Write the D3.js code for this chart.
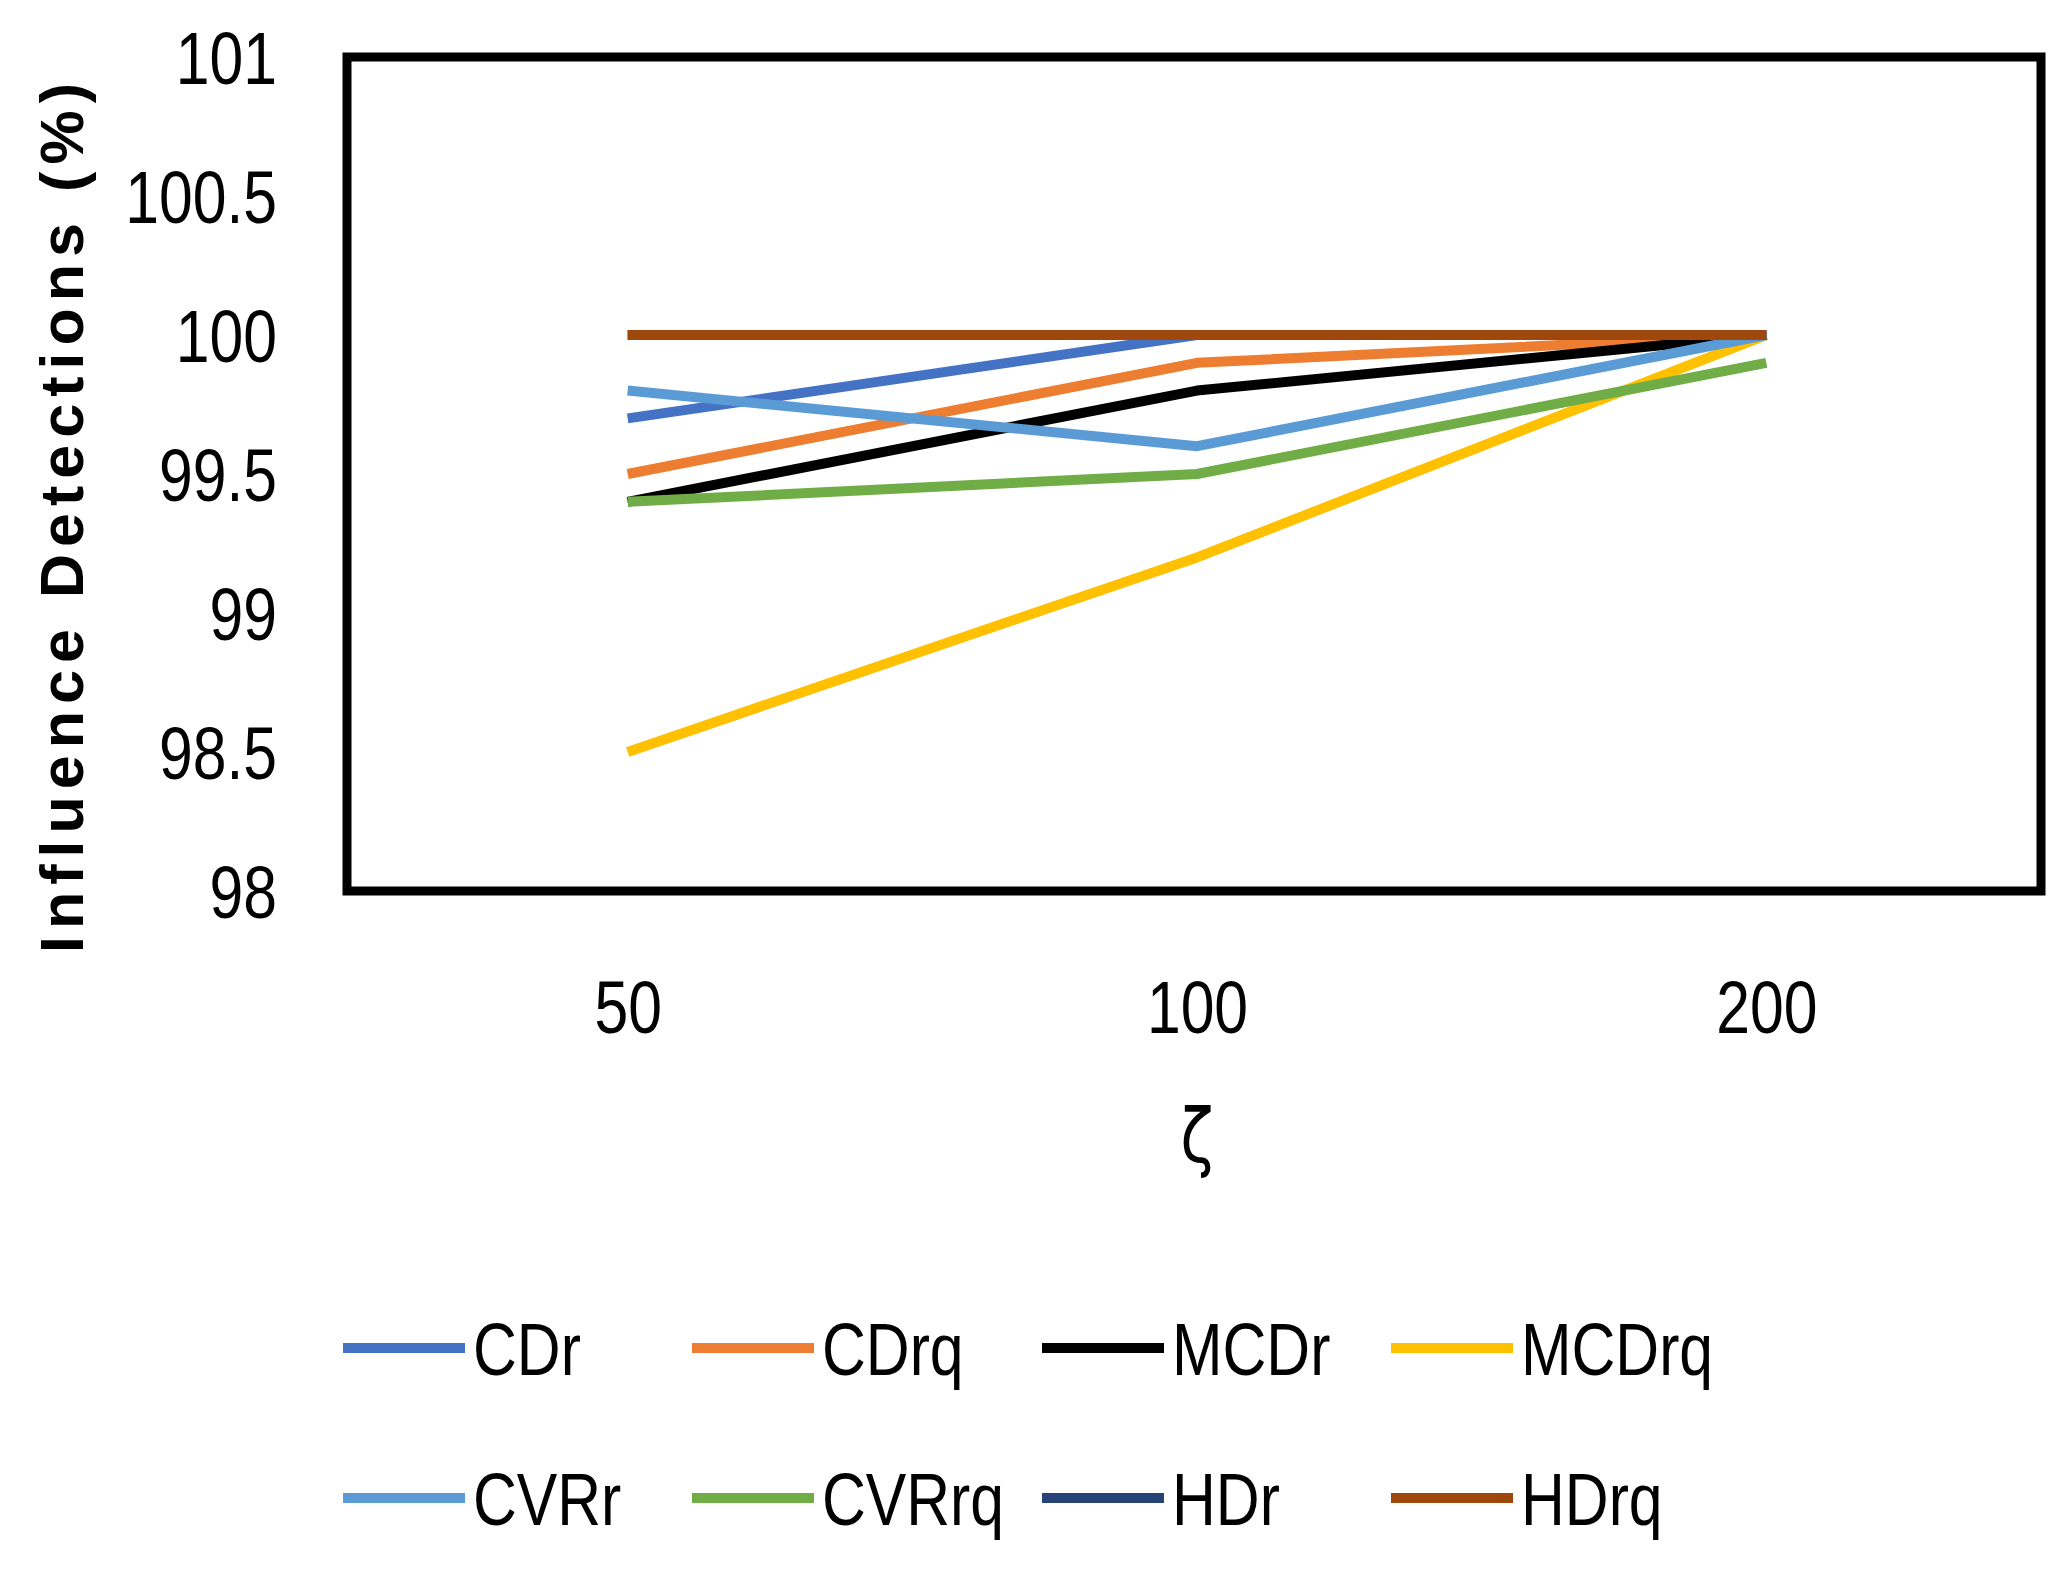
<!DOCTYPE html>
<html>
<head>
<meta charset="utf-8">
<script src="https://cdn.jsdelivr.net/npm/d3@7"></script>
<style>
  html, body { margin: 0; padding: 0; background: #fff; }
  svg { display: block; }
  .narrow { font-family: "Liberation Sans", Arial, sans-serif; }
</style>
</head>
<body>
<svg id="chart" width="2070" height="1571"></svg>
<script>
// ---- data ----
const categories = ["50", "100", "200"];
const seriesNames = ["CDr", "CDrq", "MCDr", "MCDrq", "CVRr", "CVRrq", "HDr", "HDrq"];
const seriesColors = ["#4472C4", "#ED7D31", "#000000", "#FFC000", "#5B9BD5", "#70AD47", "#264478", "#9E480E"];
const CDr   = [99.7, 100.0, 100.0];
const CDrq  = [99.5, 99.9, 100.0];
const MCDr  = [99.4, 99.8, 100.0];
const MCDrq = [98.5, 99.2, 100.0];
const CVRr  = [99.8, 99.6, 100.0];
const CVRrq = [99.4, 99.5, 99.9];
const HDr   = [100.0, 100.0, 100.0];
const HDrq  = [100.0, 100.0, 100.0];
const seriesValues = [CDr, CDrq, MCDr, MCDrq, CVRr, CVRrq, HDr, HDrq];
const yTicks = [98, 98.5, 99, 99.5, 100, 100.5, 101];
const yTitle = "Influence Detections (%)";
const xTitle = "ζ";

// ---- layout ----
const svg = d3.select("#chart");
const box = { left: 347, right: 2041, top: 57, bottom: 891 };
const SX = 0.82; // horizontal condensing of label glyphs

const x = d3.scalePoint().domain(categories).range([343, 2051]).padding(0.5);
const y = d3.scaleLinear().domain([98, 101]).range([box.bottom, box.top]);

// plot frame
svg.append("rect")
  .attr("x", box.left).attr("y", box.top)
  .attr("width", box.right - box.left).attr("height", box.bottom - box.top)
  .attr("fill", "none").attr("stroke", "#000").attr("stroke-width", 9);

// y axis labels
const yAxis = d3.axisLeft(y).tickValues(yTicks).tickSize(0).tickPadding(0)
  .tickFormat(d => String(d));
const yg = svg.append("g").attr("transform", `translate(277,0)`).call(yAxis);
yg.select(".domain").remove();
yg.selectAll("text").attr("class", "narrow").attr("font-size", 74).attr("fill", "#000")
  .attr("dy", "0.36em").attr("x", 0).attr("transform", `scale(${SX},1)`);

// x axis labels
const xAxis = d3.axisBottom(x).tickSize(0).tickPadding(0);
const xg = svg.append("g").attr("transform", `translate(0,1033)`).call(xAxis);
xg.select(".domain").remove();
xg.selectAll("text").attr("class", "narrow").attr("font-size", 74).attr("fill", "#000")
  .attr("dy", 0).attr("y", 0).attr("transform", `scale(${SX},1)`);

// axis titles
svg.append("text")
  .attr("transform", `translate(83,518) rotate(-90)`)
  .attr("text-anchor", "middle")
  .attr("font-family", "'Liberation Sans', Arial, sans-serif")
  .attr("font-weight", "bold")
  .attr("font-size", 61)
  .attr("textLength", 870)
  .attr("lengthAdjust", "spacing")
  .text(yTitle);

svg.append("text")
  .attr("transform", `translate(${x("100")},1162) scale(${SX},1)`)
  .attr("text-anchor", "middle")
  .attr("font-family", "'DejaVu Sans', sans-serif")
  .attr("font-size", 74)
  .text(xTitle);

// lines
const line = d3.line().x((d, i) => x(categories[i])).y(d => y(d));
const series = seriesNames.map((n, i) => ({ name: n, color: seriesColors[i], values: seriesValues[i] }));
svg.append("g").selectAll("path").data(series).join("path")
  .attr("d", d => line(d.values))
  .attr("fill", "none")
  .attr("stroke", d => d.color)
  .attr("stroke-width", 10)
  .attr("stroke-linejoin", "round")
  .attr("stroke-linecap", "butt");

// legend
const legendCols = [343, 692, 1042, 1391];
const legendRows = [1348, 1498];
const lg = svg.append("g").selectAll("g").data(series).join("g")
  .attr("transform", (d, i) => `translate(${legendCols[i % 4]},${legendRows[Math.floor(i / 4)]})`);
lg.append("line").attr("x1", 0).attr("x2", 122).attr("y1", 0).attr("y2", 0)
  .attr("stroke", d => d.color).attr("stroke-width", 10);
lg.append("text").attr("class", "narrow")
  .attr("transform", `translate(130,0) scale(${SX},1)`)
  .attr("dy", "0.36em")
  .attr("font-size", 74).attr("fill", "#000")
  .text(d => d.name);
</script>
</body>
</html>
